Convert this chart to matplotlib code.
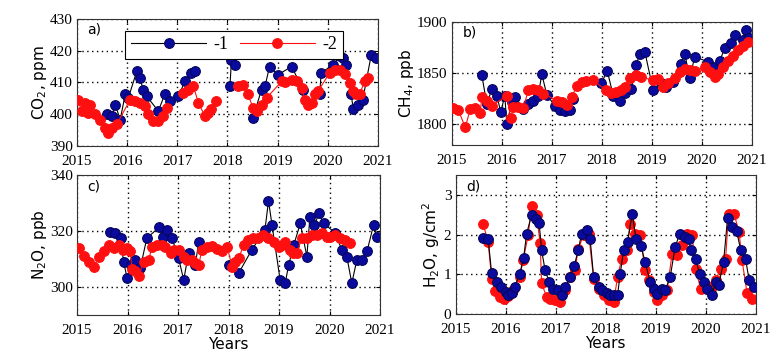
import matplotlib
matplotlib.use("Agg")
import matplotlib.pyplot as plt
import numpy as np

# ---- a) CO2, ppm
co2_t1 = [2015.59, 2015.69, 2015.76, 2015.86, 2015.96, 2016.02, 2016.19, 2016.25, 2016.32, 2016.39,
          2016.62, 2016.75, 2016.85, 2017.02, 2017.15, 2017.28, 2017.35,
          2018.05, 2018.08, 2018.15, 2018.51, 2018.68, 2018.75, 2018.84, 2019.01, 2019.28, 2019.51,
          2019.84, 2019.87, 2020.11, 2020.24, 2020.31, 2020.37, 2020.47, 2020.51, 2020.6, 2020.7,
          2020.87, 2020.97]
co2_v1 = [399.9, 399.4, 403.0, 398.3, 406.2, 405.0, 413.5, 411.4, 407.7, 405.6,
          401.0, 406.2, 404.1, 405.6, 410.3, 413.0, 413.5,
          408.8, 417.1, 415.6, 398.9, 407.7, 408.8, 415.0, 412.4, 415.0, 407.7,
          406.2, 413.0, 415.6, 418.2, 417.7, 415.6, 406.2, 401.5, 403.0, 404.6,
          418.7, 417.7]
co2_t2 = [2015.02, 2015.09, 2015.16, 2015.22, 2015.26, 2015.36, 2015.46, 2015.56, 2015.62, 2015.69,
          2015.79, 2016.06, 2016.16, 2016.26, 2016.35, 2016.42, 2016.52, 2016.62, 2016.72, 2016.79,
          2017.12, 2017.22, 2017.32, 2017.42, 2017.55, 2017.62, 2017.68, 2017.78,
          2018.21, 2018.31, 2018.41, 2018.51, 2018.58, 2018.68, 2018.78,
          2019.08, 2019.14, 2019.28, 2019.38, 2019.48, 2019.54, 2019.61, 2019.68, 2019.74, 2019.81,
          2020.04, 2020.14, 2020.24, 2020.34, 2020.44, 2020.51, 2020.57, 2020.64, 2020.74, 2020.8]
co2_v2 = [404.5, 401.0, 403.5, 400.5, 403.0, 399.9, 398.3, 395.7, 394.2, 395.7,
          396.8, 404.6, 404.0, 403.6, 402.5, 399.9, 397.8, 397.8, 399.4, 402.0,
          406.7, 407.7, 408.8, 403.6, 399.4, 400.4, 401.5, 404.1,
          408.8, 409.3, 406.2, 402.0, 401.0, 403.0, 405.1,
          410.3, 410.1, 410.9, 410.3, 408.3, 404.6, 403.0, 403.4, 406.2, 407.3,
          413.0, 414.0, 414.0, 412.5, 409.8, 407.2, 406.2, 406.5, 410.3, 411.4]

# ---- b) CH4, ppb
ch4_t1 = [2015.6, 2015.7, 2015.8, 2015.9, 2015.98, 2016.06, 2016.1, 2016.2, 2016.26, 2016.43,
          2016.53, 2016.63, 2016.73, 2016.8, 2016.9, 2017.06, 2017.16, 2017.26, 2017.36, 2017.43,
          2017.99, 2018.11, 2018.23, 2018.36, 2018.46, 2018.59, 2018.69, 2018.76, 2018.86,
          2019.03, 2019.19, 2019.29, 2019.42, 2019.59, 2019.66, 2019.76, 2019.86,
          2020.12, 2020.22, 2020.36, 2020.46, 2020.59, 2020.66, 2020.82, 2020.89, 2020.95]
ch4_v1 = [1848, 1820, 1834, 1828, 1812, 1828, 1800, 1822, 1827, 1815,
          1820, 1823, 1828, 1849, 1829, 1818, 1814, 1813, 1814, 1825,
          1840, 1852, 1828, 1823, 1831, 1834, 1858, 1869, 1871,
          1833, 1840, 1836, 1841, 1859, 1869, 1845, 1866,
          1861, 1856, 1862, 1874, 1879, 1887, 1882, 1892, 1884]
ch4_t2 = [2015.03, 2015.13, 2015.27, 2015.37, 2015.47, 2015.57, 2015.6, 2015.7, 2015.8,
          2016.1, 2016.18, 2016.23, 2016.33, 2016.43, 2016.53, 2016.63, 2016.73, 2016.83,
          2017.1, 2017.2, 2017.3, 2017.4, 2017.5, 2017.6, 2017.69, 2017.83,
          2018.09, 2018.19, 2018.29, 2018.39, 2018.46, 2018.56, 2018.69, 2018.79,
          2019.03, 2019.13, 2019.23, 2019.32, 2019.46, 2019.56, 2019.66, 2019.76, 2019.86,
          2020.06, 2020.16, 2020.26, 2020.32, 2020.42, 2020.52, 2020.62, 2020.72, 2020.82, 2020.92]
ch4_v2 = [1816, 1814, 1797, 1815, 1816, 1811, 1827, 1823, 1818,
          1828, 1806, 1817, 1817, 1816, 1833, 1834, 1833, 1830,
          1823, 1822, 1819, 1827, 1837, 1841, 1842, 1843,
          1833, 1831, 1832, 1833, 1836, 1845, 1848, 1846,
          1843, 1844, 1836, 1840, 1845, 1851, 1854, 1853, 1852,
          1856, 1851, 1846, 1849, 1856, 1862, 1867, 1872, 1876, 1880]

# ---- c) N2O, ppb
n2o_t1 = [2015.66, 2015.76, 2015.86, 2015.92, 2015.99, 2016.07, 2016.15, 2016.25, 2016.38, 2016.62,
          2016.71, 2016.78, 2016.88, 2017.01, 2017.11, 2017.21, 2017.34, 2017.41,
          2018.0, 2018.2, 2018.46, 2018.72, 2018.79, 2018.86, 2019.02, 2019.12, 2019.19, 2019.29,
          2019.42, 2019.55, 2019.61, 2019.7, 2019.79, 2019.88,
          2020.11, 2020.24, 2020.34, 2020.44, 2020.54, 2020.64, 2020.74, 2020.87, 2020.93]
n2o_v1 = [319.8, 319.2, 317.4, 309.1, 303.2, 307.9, 309.7, 306.7, 317.4, 321.3,
          318.0, 320.4, 317.4, 310.3, 302.6, 312.1, 307.9, 316.2,
          307.9, 305.0, 313.3, 320.4, 330.8, 322.1, 302.6, 301.4, 307.9, 315.0,
          322.7, 310.9, 325.1, 322.1, 326.3, 322.7,
          319.4, 313.3, 310.9, 301.4, 309.7, 309.7, 312.7, 322.1, 318.0]
n2o_t2 = [2015.03, 2015.13, 2015.23, 2015.33, 2015.43, 2015.53, 2015.63, 2015.73, 2015.82, 2015.9,
          2015.99, 2016.05, 2016.09, 2016.15, 2016.22, 2016.32, 2016.42, 2016.48, 2016.58, 2016.68,
          2016.75, 2016.85, 2016.91, 2017.01, 2017.11, 2017.18, 2017.27, 2017.34, 2017.41, 2017.47,
          2017.57, 2017.67, 2017.77, 2017.87, 2017.97, 2018.07, 2018.13, 2018.2, 2018.3, 2018.39,
          2018.49, 2018.59, 2018.69, 2018.79, 2018.89, 2018.99, 2019.05, 2019.12, 2019.22, 2019.28,
          2019.35, 2019.45, 2019.55, 2019.65, 2019.75, 2019.85, 2019.94, 2020.01, 2020.11, 2020.21,
          2020.31, 2020.41]
n2o_v2 = [313.8, 311.1, 309.1, 307.0, 310.9, 312.7, 315.0, 313.8, 315.0, 313.3,
          313.8, 312.7, 306.4, 305.6, 303.8, 309.1, 309.7, 314.4, 315.0, 315.0,
          314.4, 312.1, 313.3, 313.3, 310.9, 309.7, 309.7, 308.5, 307.9, 313.3,
          314.2, 314.7, 313.5, 312.7, 314.4, 307.3, 308.8, 310.3, 315.0, 316.8,
          317.4, 317.4, 318.6, 317.4, 316.2, 314.4, 315.0, 316.2, 313.3, 312.1,
          312.1, 317.4, 317.4, 318.6, 318.6, 319.2, 318.0, 318.0, 318.6, 317.4,
          316.8, 315.6]

# ---- d) H2O, g/cm2
h2o_t1 = [2015.55, 2015.65, 2015.72, 2015.82, 2015.9, 2016.0, 2016.05, 2016.12, 2016.18, 2016.28,
          2016.36, 2016.42, 2016.52, 2016.6, 2016.67, 2016.72, 2016.79, 2016.87, 2016.95, 2017.05,
          2017.12, 2017.19, 2017.29, 2017.37, 2017.45, 2017.52, 2017.62, 2017.69, 2017.76, 2017.86,
          2017.92, 2018.02, 2018.09, 2018.16, 2018.24, 2018.29, 2018.36, 2018.44, 2018.53, 2018.61,
          2018.71, 2018.79, 2018.89, 2018.96, 2019.03, 2019.13, 2019.19, 2019.29, 2019.39, 2019.48,
          2019.58, 2019.66, 2019.7, 2019.8, 2019.88, 2019.96, 2020.03, 2020.13, 2020.2, 2020.26,
          2020.36, 2020.44, 2020.53, 2020.62, 2020.7, 2020.8, 2020.87, 2020.97]
h2o_v1 = [1.92, 1.89, 1.02, 0.81, 0.67, 0.56, 0.48, 0.52, 0.68, 1.0,
          1.42, 2.02, 2.5, 2.39, 2.28, 1.6, 1.1, 0.81, 0.64, 0.6,
          0.48, 0.68, 0.93, 1.2, 1.6, 2.02, 2.12, 1.89, 0.93, 0.68,
          0.6, 0.53, 0.48, 0.48, 0.48, 1.0, 1.6, 1.81, 2.52, 1.89,
          1.7, 1.31, 0.81, 0.64, 0.5, 0.64, 0.6, 0.92, 1.68, 2.02,
          1.93, 1.89, 1.6, 1.39, 1.0, 0.81, 0.64, 0.48, 0.81, 0.72,
          1.31, 2.42, 2.18, 2.1, 1.62, 1.39, 0.85, 0.68]
h2o_t2 = [2015.55, 2015.65, 2015.72, 2015.78, 2015.88, 2015.96, 2016.05, 2016.15, 2016.28, 2016.35,
          2016.45, 2016.52, 2016.62, 2016.69, 2016.72, 2016.82, 2016.89, 2016.99, 2017.09, 2017.19,
          2017.29, 2017.39, 2017.45, 2017.56, 2017.66, 2017.76, 2017.86, 2017.96, 2018.06, 2018.16,
          2018.24, 2018.32, 2018.42, 2018.49, 2018.59, 2018.69, 2018.79, 2018.86, 2018.96, 2019.03,
          2019.13, 2019.23, 2019.33, 2019.43, 2019.53, 2019.63, 2019.73, 2019.8, 2019.9, 2020.0,
          2020.1, 2020.2, 2020.3, 2020.4, 2020.46, 2020.57, 2020.67, 2020.73, 2020.83, 2020.93]
h2o_v2 = [2.27, 1.81, 0.89, 0.58, 0.43, 0.39, 0.45, 0.6, 0.93, 1.35,
          1.98, 2.72, 2.48, 1.78, 0.77, 0.43, 0.39, 0.35, 0.31, 0.6,
          0.93, 1.1, 1.64, 1.98, 2.02, 0.89, 0.64, 0.48, 0.35, 0.31,
          0.93, 1.39, 1.6, 2.27, 2.02, 1.98, 1.1, 0.85, 0.56, 0.35,
          0.48, 0.6, 1.52, 1.48, 1.73, 2.02, 1.98, 1.14, 0.63, 0.72,
          0.64, 0.85, 1.14, 1.39, 2.52, 2.52, 2.06, 1.35, 0.52, 0.39]

years = [2015, 2016, 2017, 2018, 2019, 2020, 2021]
BLUE = "#0a0a9e"
BLUE_EDGE = "#06065a"
RED = "#ff1010"


def with_gaps(t, v, gap=0.3):
    # break the line where there is a long hole in the data
    t = np.asarray(t, float)
    v = np.asarray(v, float)
    tt, vv = [t[0]], [v[0]]
    for i in range(1, len(t)):
        if t[i] - t[i - 1] > gap:
            tt.append(np.nan)
            vv.append(np.nan)
        tt.append(t[i])
        vv.append(v[i])
    return tt, vv


def series(ax, t, v, color, edge, linecolor, label, z):
    tt, vv = with_gaps(t, v)
    ax.plot(tt, vv, '-', color=linecolor, lw=0.8, marker='o', ms=7,
            mfc=color, mec=edge, mew=0.8, label=label, zorder=z)


def style(ax, ylim, yticks, ylabel, letter, xlabel=False):
    ax.set_xlim(2015, 2021)
    ax.set_ylim(*ylim)
    ax.set_xticks(years)
    ax.set_yticks(yticks)
    ax.set_xticklabels([str(y) for y in years], family='Liberation Serif', fontsize=11)
    ax.set_yticklabels([str(y) for y in yticks], family='Liberation Serif', fontsize=11)
    ax.tick_params(direction='in', top=True, right=True, length=3, pad=3)
    ax.tick_params(axis='x', pad=6.5)
    ax.set_axisbelow(True)
    ax.grid(True, color='black', linestyle=(0, (1, 2.5)), lw=1.0)
    ax.set_ylabel(ylabel, fontsize=11, labelpad=1)
    if xlabel:
        ax.set_xlabel('Years', fontsize=11, labelpad=0)
    ax.text(0.035, 0.97, letter, transform=ax.transAxes, ha='left', va='top', fontsize=10)
    for s in ax.spines.values():
        s.set_color('#333333')


fig = plt.figure(figsize=(7.71, 3.63), dpi=100)
ax_a = fig.add_axes([0.100, 0.598, 0.390, 0.350])
ax_b = fig.add_axes([0.586, 0.601, 0.389, 0.339])
ax_c = fig.add_axes([0.100, 0.132, 0.393, 0.386])
ax_d = fig.add_axes([0.591, 0.135, 0.389, 0.383])

series(ax_a, co2_t1, co2_v1, BLUE, BLUE_EDGE, 'black', '-1', 2)
series(ax_a, co2_t2, co2_v2, RED, RED, RED, '-2', 3)
style(ax_a, (390, 430), [390, 400, 410, 420, 430], 'CO$_2$, ppm', 'a)')
leg = ax_a.legend(loc='upper left', bbox_to_anchor=(0.13, 0.975), ncol=2, handlelength=4.2,
                  columnspacing=0.6, handletextpad=0.4, borderpad=0.3, fancybox=False,
                  framealpha=1, edgecolor='black', prop={'family': 'Liberation Serif', 'size': 13})
leg.get_frame().set_linewidth(0.8)

series(ax_b, ch4_t1, ch4_v1, BLUE, BLUE_EDGE, 'black', '-1', 2)
series(ax_b, ch4_t2, ch4_v2, RED, RED, RED, '-2', 3)
style(ax_b, (1780, 1900), [1800, 1850, 1900], 'CH$_4$, ppb', 'b)')

series(ax_c, n2o_t1, n2o_v1, BLUE, BLUE_EDGE, 'black', '-1', 2)
series(ax_c, n2o_t2, n2o_v2, RED, RED, RED, '-2', 3)
style(ax_c, (290, 340), [300, 320, 340], 'N$_2$O, ppb', 'c)', xlabel=True)

series(ax_d, h2o_t2, h2o_v2, RED, RED, RED, '-2', 2)
series(ax_d, h2o_t1, h2o_v1, BLUE, BLUE_EDGE, 'black', '-1', 3)
style(ax_d, (0, 3.5), [0, 1, 2, 3], 'H$_2$O, g/cm$^2$', 'd)', xlabel=True)

fig.savefig('out.png', dpi=100)
